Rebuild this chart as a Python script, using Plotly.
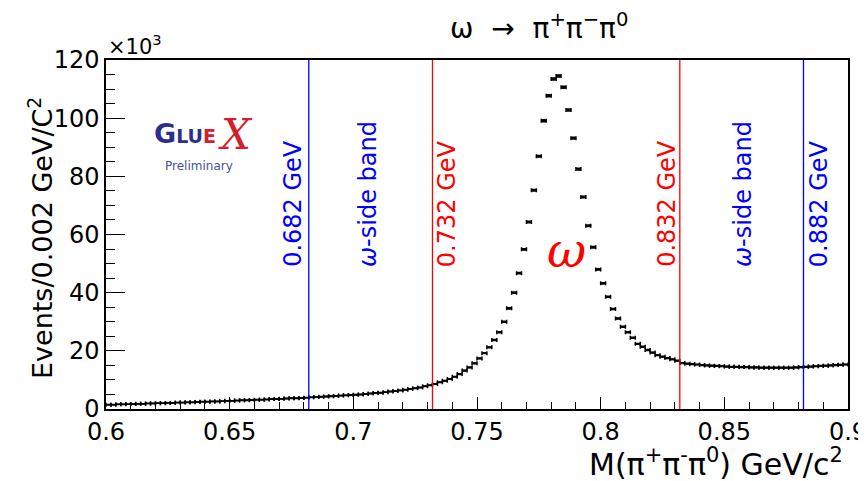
import numpy as np
import plotly.graph_objects as go

# ---- data (events per 0.002 GeV bin, in units of 10^3) ----
bin_width = 0.002
x_min, x_max = 0.6, 0.9
counts_k = [
    1.5, 1.5, 1.6, 1.6, 1.7, 1.7, 1.8, 1.8, 1.9, 1.9,
    2.0, 2.0, 2.1, 2.1, 2.2, 2.2, 2.3, 2.3, 2.4, 2.5,
    2.5, 2.6, 2.6, 2.7, 2.8, 2.8, 2.9, 3.0, 3.0, 3.1,
    3.2, 3.2, 3.3, 3.4, 3.4, 3.5, 3.6, 3.7, 3.7, 3.8,
    3.9, 4.0, 4.1, 4.2, 4.3, 4.4, 4.5, 4.6, 4.7, 4.8,
    4.9, 5.0, 5.2, 5.3, 5.5, 5.6, 5.8, 6.0, 6.2, 6.4,
    6.6, 6.9, 7.1, 7.4, 7.8, 8.2, 8.6, 9.2, 9.7, 10.3,
    11.1, 12.0, 13.2, 14.3, 15.7, 17.4, 19.2, 21.2, 23.7, 26.4,
    30.0, 34.6, 40.0, 46.7, 54.9, 64.3, 75.2, 86.9, 99.1, 107.7,
    113.5, 114.5, 110.6, 102.8, 93.1, 82.5, 72.9, 63.0, 55.6, 48.0,
    43.2, 38.6, 34.4, 31.1, 28.3, 26.4, 24.5, 22.4, 21.4, 20.3,
    19.4, 18.5, 18.0, 17.5, 17.1, 16.6, 15.8, 15.6, 15.4, 15.3,
    15.1, 15.0, 14.9, 14.8, 14.7, 14.6, 14.5, 14.5, 14.4, 14.4,
    14.3, 14.3, 14.2, 14.2, 14.2, 14.2, 14.2, 14.2, 14.2, 14.3,
    14.4, 14.5, 14.6, 14.7, 14.8, 14.9, 15.0, 15.1, 15.2, 15.3,
]
cut_red = [0.732, 0.832]
cut_blue = [0.682, 0.882]
x_ticks = [0.6, 0.65, 0.7, 0.75, 0.8, 0.85, 0.9]
x_tick_text = ["0.6", "0.65", "0.7", "0.75", "0.8", "0.85", "0.9"]
y_ticks = [0, 20, 40, 60, 80, 100, 120]

centers = x_min + bin_width / 2 + bin_width * np.arange(len(counts_k))
counts = np.array(counts_k)
yerr = np.sqrt(counts * 1000.0) / 1000.0

FONT = "DejaVu Sans"
BLUE = "#0000ff"
RED = "#ff0000"

# plot-area geometry in page pixels (page has an 8px body offset)
PL, PR, PT, PB = 106, 848, 60, 409
W, H = 858, 473

fig = go.Figure()
fig.add_trace(go.Scatter(
    x=centers, y=counts, mode="markers",
    marker=dict(size=1, color="black"),
    error_x=dict(type="constant", value=bin_width / 2, width=2, thickness=1.5, color="black"),
    error_y=dict(type="data", array=yerr, width=2, thickness=1.5, color="black"),
    showlegend=False, hoverinfo="x+y",
))

for xv in cut_blue:
    fig.add_shape(type="line", x0=xv, x1=xv, y0=0, y1=1, xref="x", yref="paper",
                  line=dict(color=BLUE, width=1.3))
for xv in cut_red:
    fig.add_shape(type="line", x0=xv, x1=xv, y0=0, y1=1, xref="x", yref="paper",
                  line=dict(color=RED, width=1.3))

def vlabel(x, y, text, color, size=24):
    fig.add_annotation(x=x, y=y, xref="x", yref="y", text=text, textangle=-90,
                       showarrow=False, xanchor="center", yanchor="middle",
                       font=dict(family=FONT, size=size, color=color))

vlabel(0.6758, 70.7, "0.682 GeV", BLUE)
vlabel(0.7062, 73.8, "<i>ω</i>-side band", BLUE)
vlabel(0.7382, 70.7, "0.732 GeV", RED)
vlabel(0.8270, 70.7, "0.832 GeV", RED)
vlabel(0.8578, 73.8, "<i>ω</i>-side band", BLUE)
vlabel(0.8886, 70.7, "0.882 GeV", BLUE)

fig.add_annotation(x=0.7861, y=54.8, xref="x", yref="y", text="<i>ω</i>", showarrow=False,
                   xanchor="center", yanchor="middle",
                   font=dict(family="DejaVu Serif", size=48, color=RED))

def ptext(px, py, text, size, color, family=FONT, anchor="center", angle=0):
    fig.add_annotation(x=(px - PL) / (PR - PL), y=(PB - py) / (PB - PT), xref="paper", yref="paper",
                       text=text, showarrow=False, xanchor=anchor, yanchor="middle", textangle=angle,
                       font=dict(family=family, size=size, color=color))

# title
ptext(539, 27, "ω\u00a0\u00a0→\u00a0\u00a0π<sup>+</sup>π<sup>−</sup>π<sup>0</sup>", 28, "black")
# x10^3
ptext(106, 45, "×10<sup>3</sup>", 21, "black", anchor="left")
# y title
ptext(40, 238, "Events/0.002 GeV/C<sup>2</sup>", 27, "black", angle=-90)
# x title
ptext(845, 463, "M(π<sup>+</sup>π<sup>-</sup>π<sup>0</sup>) GeV/c<sup>2</sup>", 30, "black", anchor="right")

# GlueX logo as text
ptext(152, 133, "<b>G<span style='font-size:19px'>LU<span style='color:#d4202a'>E</span></span></b>",
      27, "#2b2f8c", anchor="left")
ptext(235, 134, "<i>X</i>", 42, "#d4202a", family="DejaVu Serif")
ptext(199, 166, "Preliminary", 12, "#4a4f9a")

fig.update_layout(
    width=W, height=H,
    margin=dict(l=PL - 8, r=W - (PR - 8), t=PT - 8, b=H - (PB - 8), autoexpand=False),
    paper_bgcolor="white", plot_bgcolor="white",
    font=dict(family=FONT, color="black"),
    xaxis=dict(range=[x_min, x_max], tickvals=x_ticks, ticktext=x_tick_text,
               ticks="inside", ticklen=12, tickwidth=1.3, tickcolor="black",
               minor=dict(ticks="inside", ticklen=7, dtick=0.01, tick0=0.6, tickcolor="black", tickwidth=1.3),
               showline=True, linecolor="black", linewidth=1.5, mirror=True,
               showgrid=False, zeroline=False, ticklabeloverflow="allow",
               tickfont=dict(family=FONT, size=24, color="black")),
    yaxis=dict(range=[0, 120], tickvals=y_ticks,
               ticks="inside", ticklen=19, tickwidth=1.3, tickcolor="black",
               minor=dict(ticks="inside", ticklen=9, dtick=5, tick0=0, tickcolor="black", tickwidth=1.3),
               showline=True, linecolor="black", linewidth=1.5, mirror=True,
               showgrid=False, zeroline=False,
               tickfont=dict(family=FONT, size=24, color="black")),
)

fig.write_html("out.html")
